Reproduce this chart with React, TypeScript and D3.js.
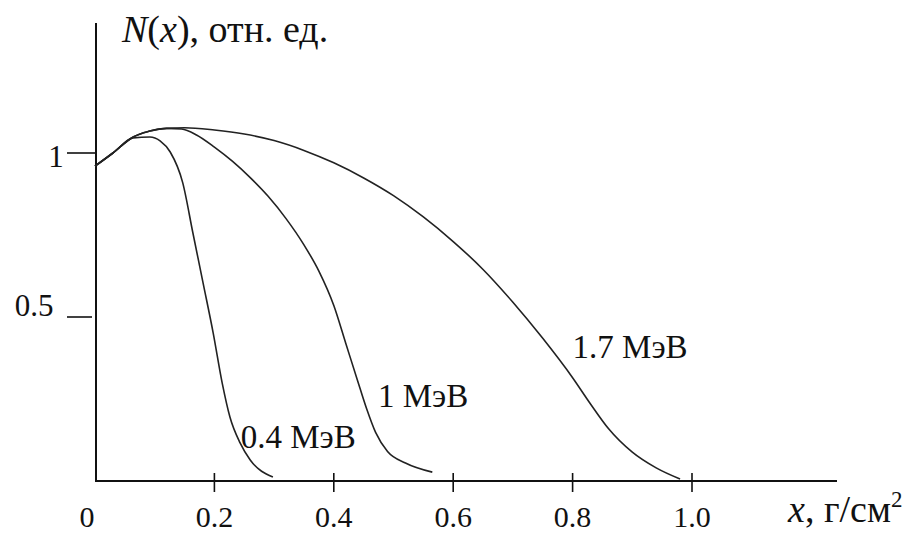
import React from "react";
import * as d3 from "d3";

// x in г/см², N(x) in relative units
const curve04X = [0, 0.03, 0.064, 0.092, 0.109, 0.126, 0.147, 0.164, 0.181, 0.198, 0.213, 0.226, 0.243, 0.26, 0.298];
const curve04Y = [0.96, 1.0, 1.046, 1.049, 1.037, 1.003, 0.909, 0.756, 0.604, 0.451, 0.299, 0.195, 0.116, 0.064, 0.012];

const curve1X = [0, 0.03, 0.064, 0.09, 0.12, 0.145, 0.17, 0.2, 0.23, 0.26, 0.29, 0.32, 0.35, 0.375, 0.4, 0.42, 0.44, 0.455, 0.47, 0.49, 0.52, 0.565];
const curve1Y = [0.96, 1.0, 1.049, 1.066, 1.075, 1.073, 1.055, 1.018, 0.975, 0.925, 0.868, 0.8, 0.72, 0.64, 0.535, 0.42, 0.305, 0.22, 0.148, 0.09, 0.055, 0.027];

const curve17X = [0, 0.03, 0.064, 0.09, 0.12, 0.15, 0.2, 0.25, 0.3, 0.35, 0.4, 0.45, 0.5, 0.55, 0.6, 0.65, 0.7, 0.75, 0.8, 0.83, 0.86, 0.9, 0.94, 0.98];
const curve17Y = [0.96, 1.0, 1.049, 1.066, 1.075, 1.077, 1.07, 1.058, 1.038, 1.008, 0.97, 0.924, 0.87, 0.805, 0.73, 0.645, 0.545, 0.435, 0.315, 0.235, 0.16, 0.088, 0.04, 0.006];

const xTicks = [0, 0.2, 0.4, 0.6, 0.8, 1.0];
const xTickLabels = ["0", "0.2", "0.4", "0.6", "0.8", "1.0"];
const yTicks = [1, 0.5];
const yTickLabels = ["1", "0.5"];

const curveLabels = ["0.4 МэВ", "1 МэВ", "1.7 МэВ"];

const FONT = "'Liberation Serif', 'Times New Roman', serif";
const INK = "#111";

const App = () => {
  const width = 910;
  const height = 535;
  const x = d3.scaleLinear().domain([0, 1]).range([95, 692]);
  const y = d3.scaleLinear().domain([0, 1]).range([481, 153]);

  const line = d3
    .line<[number, number]>()
    .x(d => x(d[0]))
    .y(d => y(d[1]))
    .curve(d3.curveMonotoneX);

  const series = [
    d3.zip(curve04X, curve04Y) as [number, number][],
    d3.zip(curve1X, curve1Y) as [number, number][],
    d3.zip(curve17X, curve17Y) as [number, number][],
  ];

  // label anchor points (data units), placed to the right of each curve
  const labelPos: [number, number][] = [
    [0.244, 0.1],
    [0.474, 0.225],
    [0.8, 0.375],
  ];

  return (
    <div style={{ position: "fixed", left: 0, top: 0, background: "#fff" }}>
      <svg width={width} height={height} style={{ display: "block" }}>
        <rect width={width} height={height} fill="#fff" />

        {/* axes */}
        <line x1={x(0) + 1} x2={x(0) + 1} y1={23} y2={y(0)} stroke={INK} strokeWidth={2} />
        <line x1={x(0)} x2={837} y1={y(0)} y2={y(0)} stroke={INK} strokeWidth={2} />

        {xTicks.slice(1).map((t, i) => (
          <line key={i} x1={x(t)} x2={x(t)} y1={y(0) - 8} y2={y(0) + 11} stroke={INK} strokeWidth={1.6} />
        ))}
        {xTicks.map((t, i) => (
          <text
            key={i}
            x={i === 0 ? x(t) - 8 : x(t)}
            y={527}
            textAnchor="middle"
            fontFamily={FONT}
            fontSize={30}
            fill={INK}
          >
            {xTickLabels[i]}
          </text>
        ))}

        {yTicks.map((t, i) => (
          <line key={i} x1={x(0) - 28} x2={x(0) - (i === 0 ? 0 : 3)} y1={y(t)} y2={y(t)} stroke={INK} strokeWidth={1.6} />
        ))}
        <text x={56} y={y(yTicks[0]) + 14} textAnchor="middle" fontFamily={FONT} fontSize={31} fill={INK}>
          {yTickLabels[0]}
        </text>
        <text x={34} y={y(yTicks[1]) - 1} textAnchor="middle" fontFamily={FONT} fontSize={31} fill={INK}>
          {yTickLabels[1]}
        </text>

        {/* axis titles */}
        <text x={122} y={42} fontFamily={FONT} fontSize={38} fill={INK}>
          <tspan fontStyle="italic">N</tspan>
          <tspan>(</tspan>
          <tspan fontStyle="italic">x</tspan>
          <tspan>), отн. ед.</tspan>
        </text>
        <text x={788} y={522} fontFamily={FONT} fontSize={38} fill={INK}>
          <tspan fontStyle="italic">x</tspan>
          <tspan>, г/см</tspan>
          <tspan fontSize={23} dy={-15}>2</tspan>
        </text>

        {/* curves */}
        {series.map((s, i) => (
          <path key={i} d={line(s) || ""} fill="none" stroke="#222" strokeWidth={1.6} />
        ))}

        {curveLabels.map((lab, i) => (
          <text
            key={i}
            x={x(labelPos[i][0])}
            y={y(labelPos[i][1])}
            fontFamily={FONT}
            fontSize={33}
            fill={INK}
          >
            {lab}
          </text>
        ))}
      </svg>
    </div>
  );
};

export default App;
